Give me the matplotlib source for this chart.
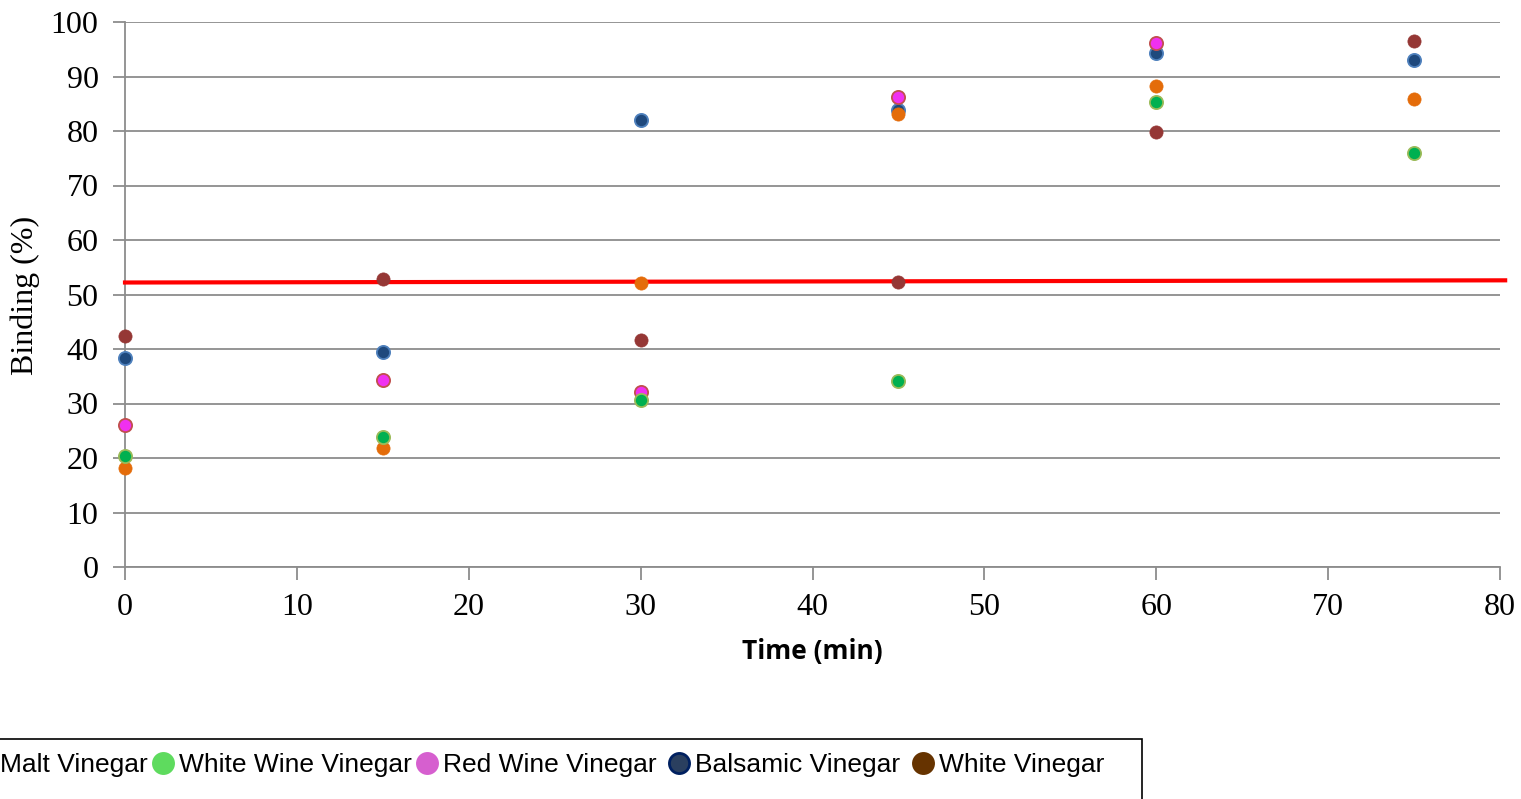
import matplotlib
matplotlib.use("Agg")
import matplotlib.pyplot as plt
from matplotlib.lines import Line2D
from matplotlib.patches import Rectangle
import numpy as np

time = [0, 15, 30, 45, 60, 75]
malt = [18.1, 21.8, 52.2, 83.1, 88.3, 85.9]
white_wine = [20.3, 23.8, 30.6, 34.2, 85.3, 76.0]
red_wine = [26.0, 34.4, 32.2, 86.2, 96.2, np.nan]
balsamic = [38.4, 39.5, 82.0, 83.8, 94.4, 93.0]
white = [42.3, 52.8, 41.6, 52.3, 79.9, 96.6]
threshold_x = [0, 80.3]
threshold_y = [52.2, 52.6]

series_names = ["Malt Vinegar", "White Wine Vinegar", "Red Wine Vinegar ", "Balsamic Vinegar ", "White Vinegar"]

W, H = 1521, 799
fig = plt.figure(figsize=(W / 100, H / 100), dpi=100)
ax = fig.add_axes([125 / W, 1 - 567 / H, (1500 - 125) / W, (567 - 22) / H])

serif = "Liberation Serif"

# draw order: balsamic, malt, red wine, white wine, white
draw = [
    (balsamic, "#1F497D", "#4F81BD", 1.3),
    (malt, "#E46C0A", "#E46C0A", 0.5),
    (red_wine, "#F030F0", "#C0504D", 1.3),
    (white_wine, "#00B050", "#9BBB59", 1.3),
    (white, "#953735", "#953735", 0.5),
]
for vals, fc, ec, ew in draw:
    ax.plot(time, vals, linestyle="none", marker="o", markersize=9.5,
            markerfacecolor=fc, markeredgecolor=ec, markeredgewidth=ew, zorder=4, clip_on=False)

ax.plot(threshold_x, threshold_y, color="#FF0000", linewidth=3, zorder=3, clip_on=False)

ax.set_xlim(0, 80)
ax.set_ylim(0, 100)
ax.set_xticks(np.arange(0, 81, 10))
ax.set_yticks(np.arange(0, 101, 10))
ax.grid(axis="y", color="#8C8C8C", linewidth=1.3)
ax.set_axisbelow(True)
for s in ["top", "right"]:
    ax.spines[s].set_visible(False)
for s in ["left", "bottom"]:
    ax.spines[s].set_color("#8C8C8C")
    ax.spines[s].set_linewidth(1.3)
ax.tick_params(axis="both", direction="out", length=9, width=1.3, color="#8C8C8C", labelsize=23)
ax.tick_params(axis="x", pad=9.5)
ax.tick_params(axis="y", pad=10)
for lbl in ax.get_xticklabels() + ax.get_yticklabels():
    lbl.set_fontfamily(serif)

fig.text(25 / W, 1 - 295 / H, "Binding (%)", rotation=90, ha="center", va="center",
         fontsize=23, fontfamily=serif)
fig.text(812 / W, 1 - 651 / H, "Time (min)", ha="center", va="center",
         fontsize=19, fontweight="bold", fontfamily="Open Sans")

# legend
leg_colors = [("#E46C0A", "#E46C0A"), ("#5EDB5E", "#5EDB5E"), ("#D65FCF", "#D65FCF"),
              ("#2A3F5F", "#002060"), ("#663300", "#663300")]
handles = [Line2D([], [], linestyle="none", marker="o", markersize=14.5,
                  markerfacecolor=fc, markeredgecolor=ec, markeredgewidth=2)
           for fc, ec in leg_colors]
fs = 19
fspx = fs * 100 / 72
hl, htp = 0.78, 0.22
leg = fig.legend(handles, series_names, loc="center left",
                 bbox_to_anchor=(-(hl + htp) * fspx / W, 1 - 765 / H),
                 ncol=5, frameon=False,
                 prop={"family": "Liberation Sans", "size": fs},
                 handlelength=hl, handletextpad=htp, columnspacing=0.18,
                 borderpad=0, borderaxespad=0)
fig.patches.append(Rectangle((-5 / W, 1 - 810 / H), 1147 / W, 71 / H, transform=fig.transFigure,
                             fill=False, edgecolor="black", linewidth=1.2, clip_on=False))

fig.savefig("out.png", dpi=100)
